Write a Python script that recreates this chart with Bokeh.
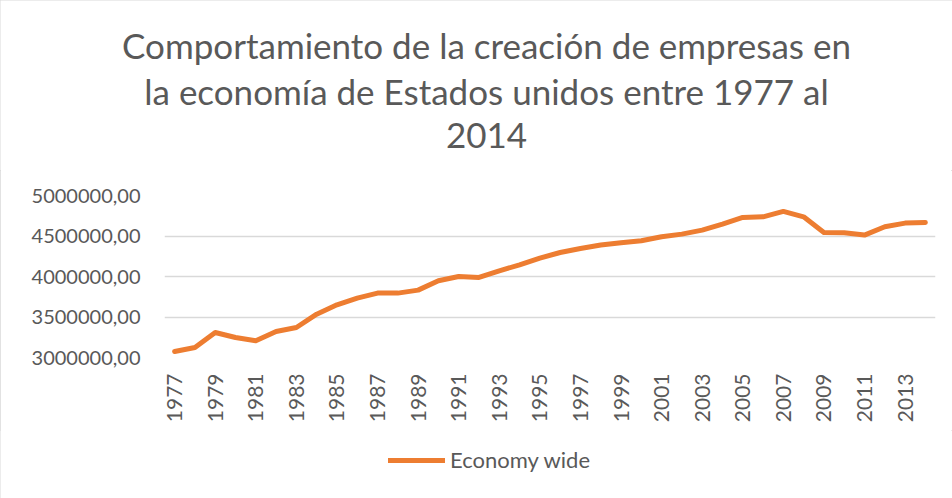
import math
from bokeh.plotting import figure
from bokeh.models import Label, Legend, LegendItem, FixedTicker, Range1d
from bokeh.layouts import column
from bokeh.embed import file_html
from bokeh.resources import INLINE

years = list(range(1977, 2015))
economy_wide = [3074000, 3123000, 3309000, 3247000, 3206000, 3321000, 3370000, 3535000,
                3650000, 3733000, 3795000, 3795000, 3832000, 3947000, 4000000, 3988000,
                4070000, 4144000, 4227000, 4296000, 4346000, 4388000, 4416000, 4441000,
                4490000, 4523000, 4573000, 4647000, 4729000, 4737000, 4803000, 4737000,
                4543000, 4539000, 4511000, 4614000, 4659000, 4667000]
y_ticks = [3000000, 3500000, 4000000, 4500000, 5000000]
y_tick_labels = ["3000000,00", "3500000,00", "4000000,00", "4500000,00", "5000000,00"]
x_ticks = years[::2]
title_lines = ["Comportamiento de la creación de empresas en",
               "la economía de Estados unidos entre 1977 al",
               "2014"]
series_name = "Economy wide"

FONT = "Lato"
GREY = "#595959"
ORANGE = "#ED7D31"
W = 952
TITLE_H = 170
LEG_H = 68
MAIN_H = 498 - TITLE_H - LEG_H


def blank(fig):
    fig.outline_line_color = None
    fig.grid.grid_line_color = None
    fig.background_fill_color = "white"
    fig.border_fill_color = "white"


# ---- title panel (pixel coordinates, y downwards) ----
t = figure(width=W, height=TITLE_H, output_backend="svg", toolbar_location=None,
           x_range=Range1d(0, W), y_range=Range1d(TITLE_H, 0),
           x_axis_location=None, y_axis_location=None,
           min_border_left=0, min_border_right=0, min_border_top=0, min_border_bottom=0)
t.frame_align = False
blank(t)
baselines = [44, 90, 135]
for line, b in zip(title_lines, baselines):
    t.add_layout(Label(x=486, y=b, text=line, text_align="center", text_baseline="alphabetic",
                       text_font=FONT, text_font_size="35px", text_color=GREY))

# ---- main chart ----
p = figure(width=W, height=MAIN_H, output_backend="svg", toolbar_location=None,
           x_range=(1976.5, 2014.5), y_range=(3000000, 5000000),
           min_border_left=164, min_border_right=17, min_border_top=25, min_border_bottom=73)
p.frame_align = False
p.outline_line_color = None
p.background_fill_color = "white"
p.border_fill_color = "white"

p.xaxis.ticker = FixedTicker(ticks=x_ticks)
p.xaxis.major_label_orientation = math.pi / 2
p.xaxis.axis_line_color = None
p.xaxis.major_tick_line_color = None
p.xaxis.minor_tick_line_color = None
p.xaxis.major_tick_out = 0
p.xaxis.major_label_standoff = 16
p.xaxis.major_label_text_font = FONT
p.xaxis.major_label_text_font_size = "21px"
p.xaxis.major_label_text_color = GREY

p.yaxis.ticker = FixedTicker(ticks=y_ticks)
p.yaxis.major_label_overrides = {t_: l for t_, l in zip(y_ticks, y_tick_labels)}
p.yaxis.axis_line_color = None
p.yaxis.major_tick_line_color = None
p.yaxis.minor_tick_line_color = None
p.yaxis.major_tick_out = 0
p.yaxis.major_label_standoff = 24
p.yaxis.major_label_text_font = FONT
p.yaxis.major_label_text_font_size = "20px"
p.yaxis.major_label_text_color = GREY

p.xgrid.grid_line_color = None
p.ygrid.grid_line_color = "#d9d9d9"
p.ygrid.grid_line_width = 1.3

line_style = dict(line_color=ORANGE, line_width=5, line_cap="round", line_join="round")
p.line(years, economy_wide, **line_style)

# ---- legend panel ----
lg = figure(width=W, height=LEG_H, output_backend="svg", toolbar_location=None,
            x_range=Range1d(0, 1), y_range=Range1d(0, 1),
            x_axis_location=None, y_axis_location=None,
            min_border_left=0, min_border_right=0, min_border_top=0, min_border_bottom=0)
lg.frame_align = False
blank(lg)
lr = lg.line(years, economy_wide, visible=False, **line_style)
legend = Legend(items=[LegendItem(label=series_name, renderers=[lr])],
                location=(388, 25), orientation="horizontal",
                glyph_width=57, glyph_height=24, label_height=24, label_standoff=5,
                padding=0, margin=0, border_line_alpha=0, background_fill_alpha=0,
                label_text_font=FONT, label_text_font_size="22px", label_text_color=GREY)
lg.add_layout(legend, "center")

layout = column(t, p, lg, spacing=0,
                styles={"outline": "1px solid #d9d9d9", "outline-offset": "-1px"})

open("out.html", "w").write(file_html(layout, INLINE))
